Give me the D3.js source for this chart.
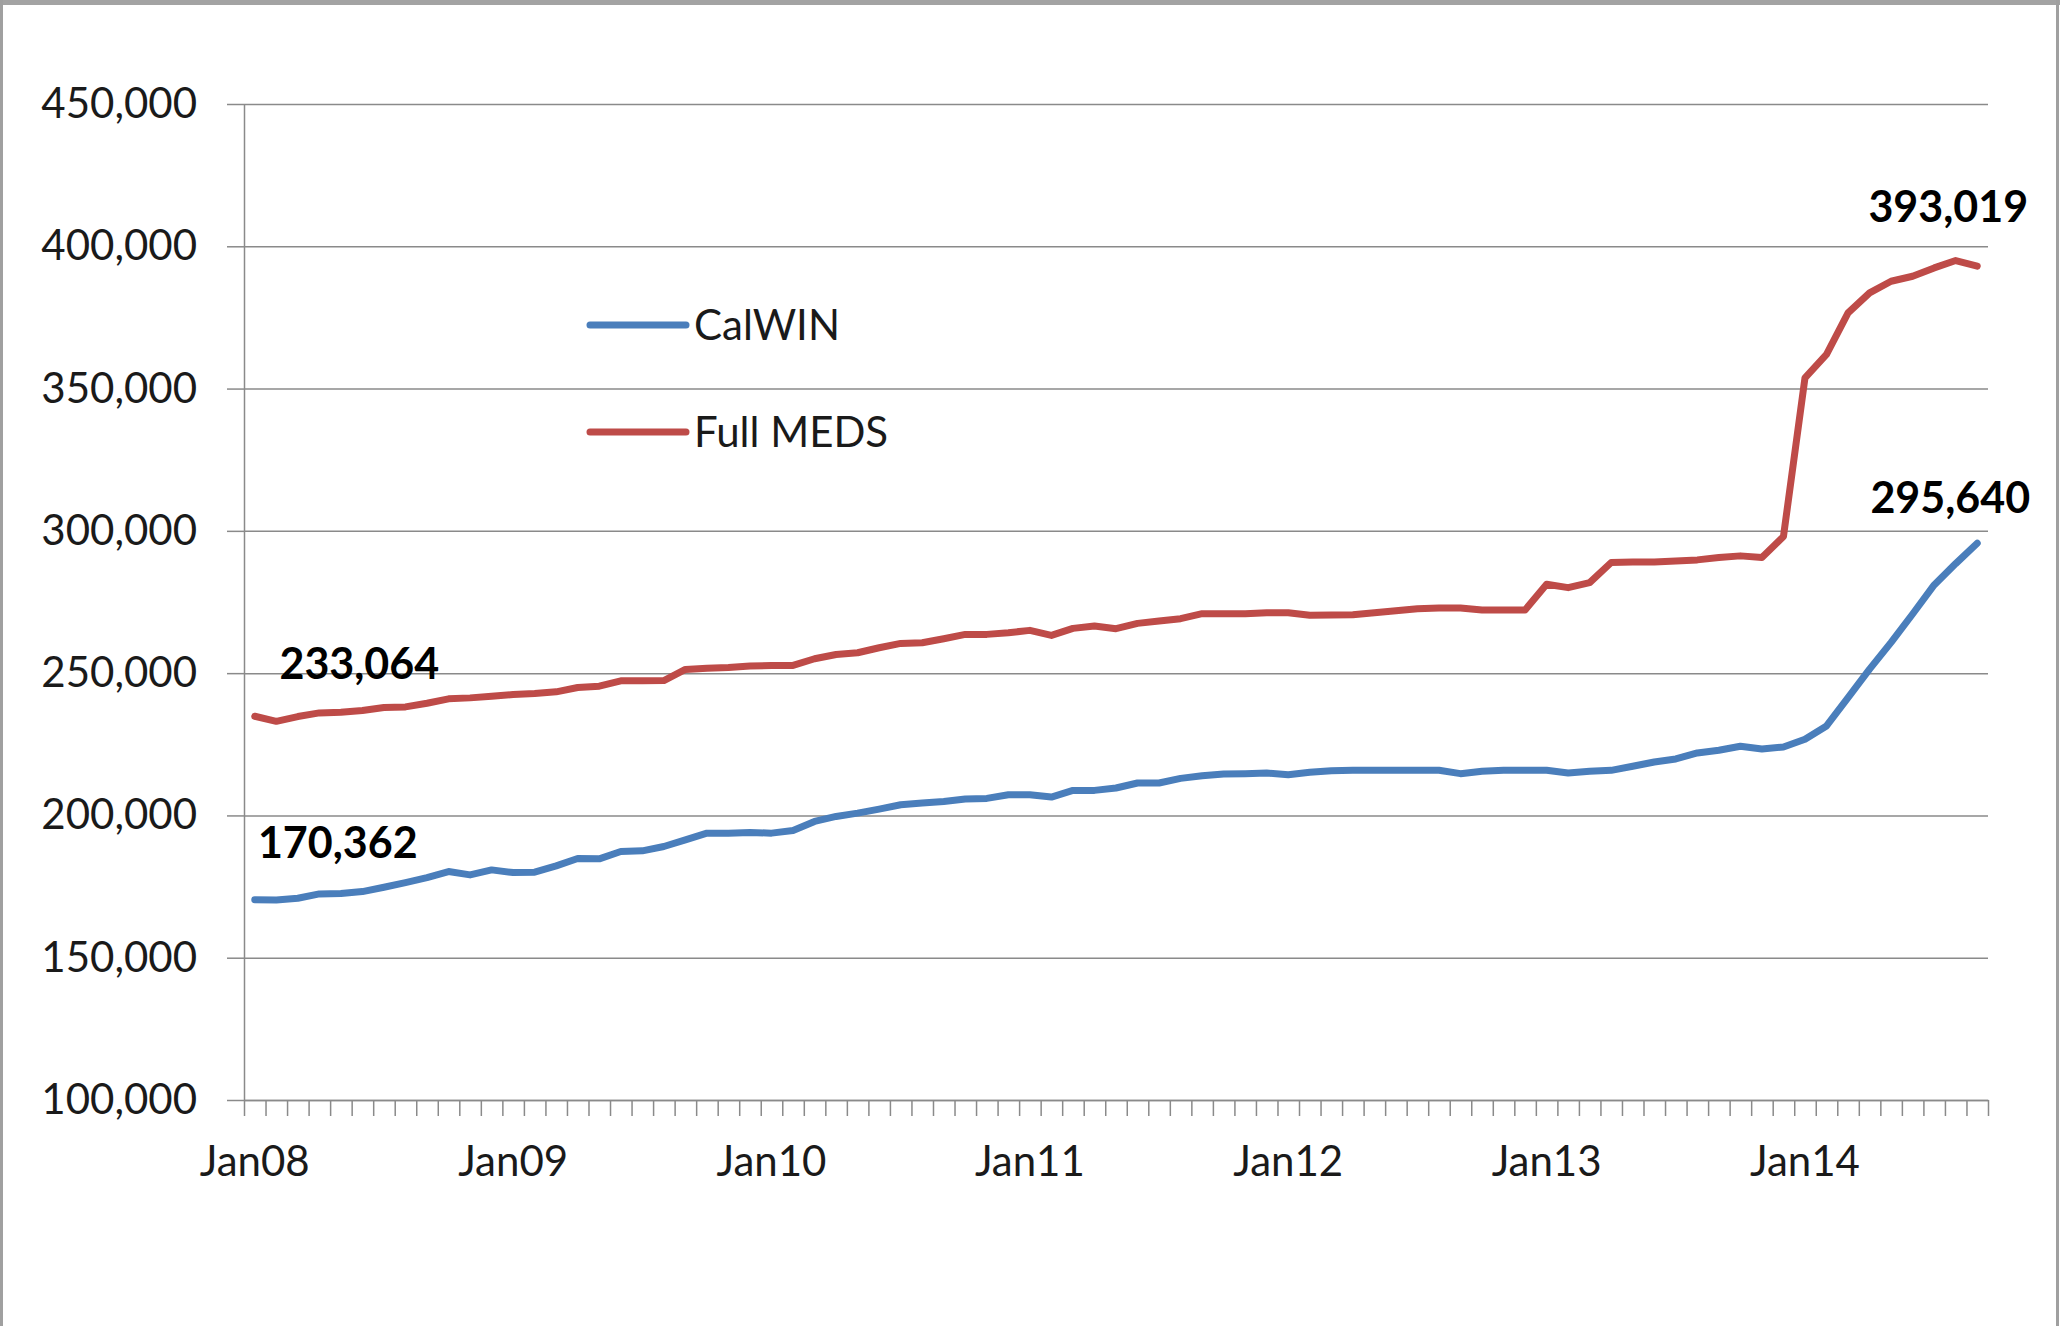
<!DOCTYPE html>
<html>
<head>
<meta charset="utf-8">
<script src="https://cdn.jsdelivr.net/npm/d3@7"></script>
<style>
  body { margin: 0; background: #fff; }
  svg { display: block; }
</style>
</head>
<body>
<div id="chart"></div>
<script>
// monthly caseload, Jan 2008 .. Sep 2014
var calwin = [
  170362, 170300, 170880, 172410, 172530, 173230, 174760, 176400, 178160, 180280, 179100, 180860,
  179920, 180040, 182270, 184860, 184740, 187320, 187560, 189080, 191430, 193780, 193780, 194010,
  193780, 194720, 197890, 199650, 200820, 202230, 203760, 204340, 204930, 205750, 205990, 207280,
  207280, 206460, 208800, 208800, 209630, 211390, 211390, 213030, 213970, 214560, 214680, 214910,
  214320, 215140, 215730, 215850, 215850, 215850, 215850, 215850, 214680, 215500, 215850, 215850,
  215850, 214910, 215500, 215850, 217260, 218780, 219840, 221950, 222890, 224300, 223360, 224050,
  226750, 231450, 241430, 251400, 260800, 270780, 281000, 288500, 295640
];
var fullMeds = [
  234850, 233064, 234740, 236030, 236260, 236850, 237900, 238140, 239430, 240960, 241310, 241900,
  242490, 242840, 243430, 244950, 245420, 247300, 247300, 247400, 251290, 251760, 252000, 252470,
  252700, 252700, 255050, 256570, 257160, 258920, 260450, 260680, 262090, 263620, 263620, 264210,
  265030, 263270, 265730, 266550, 265610, 267490, 268310, 269140, 270900, 270900, 270900, 271250,
  271250, 270310, 270430, 270550, 271250, 271950, 272660, 272890, 272890, 272190, 272190, 272190,
  281230, 280050, 281820, 288860, 289090, 289090, 289450, 289800, 290620, 291210, 290620, 298000,
  353790, 361980, 376600, 383620, 387720, 389470, 392400, 395000, 393019
];
var months = d3.timeMonths(new Date(2008, 0, 1), new Date(2014, 9, 1));
var yTicks = [100000, 150000, 200000, 250000, 300000, 350000, 400000, 450000];
var xTickLabels = ["Jan08", "Jan09", "Jan10", "Jan11", "Jan12", "Jan13", "Jan14"];
var seriesNames = ["CalWIN", "Full MEDS"];

var w = 2060, h = 1326;
// plot box (note: "top" is taken by window.top, so prefix these)
var pLeft = 244, pRight = 1988, pTop = 104, pBottom = 1100;
var colors = ["#4a7ebb", "#be4b48"];
var gridColor = "#8a8a8a";
var font = "Lato, 'Open Sans', sans-serif";
var lineW = 7;

var svg = d3.select("#chart").append("svg")
  .attr("width", w)
  .attr("height", h);

// frame
svg.append("rect").attr("x", 0).attr("y", 0).attr("width", w).attr("height", h).attr("fill", "#fff");
svg.append("rect").attr("x", 0).attr("y", 0).attr("width", w).attr("height", 5).attr("fill", "#a3a3a3");
svg.append("rect").attr("x", 0).attr("y", 0).attr("width", 3).attr("height", h).attr("fill", "#a0a0a0");
svg.append("rect").attr("x", w - 4).attr("y", 0).attr("width", 3).attr("height", h).attr("fill", "#a0a0a0");

var idx = d3.range(months.length);
var x = d3.scaleBand().domain(idx).range([pLeft, pRight]).padding(0);
var xEdge = d3.scaleLinear().domain([0, months.length]).range([pLeft, pRight]);
var y = d3.scaleLinear().domain([100000, 450000]).range([pBottom, pTop]);
var cx = function(i) { return x(i) + x.bandwidth() / 2; };

// gridlines
svg.append("g")
  .attr("transform", "translate(" + pLeft + ",0)")
  .call(d3.axisLeft(y).tickValues(yTicks).tickSize(-(pRight - pLeft)).tickFormat(""))
  .call(function(g) {
    g.select(".domain").remove();
    g.selectAll("line").attr("stroke", gridColor).attr("stroke-width", 1.5);
  });

// y axis
svg.append("g")
  .attr("transform", "translate(" + pLeft + ",0)")
  .call(d3.axisLeft(y).tickValues(yTicks).tickSize(17).tickPadding(30).tickSizeOuter(0).tickFormat(d3.format(",")))
  .call(function(g) {
    g.select(".domain").attr("stroke", gridColor).attr("stroke-width", 1.5);
    g.selectAll("line").attr("stroke", gridColor).attr("stroke-width", 1.5);
    g.selectAll("text").attr("font-family", font).attr("font-size", 42).attr("fill", "#1a1a1a");
  });

// x axis ticks at category edges
svg.append("g")
  .attr("transform", "translate(0," + pBottom + ")")
  .call(d3.axisBottom(xEdge).tickValues(d3.range(months.length + 1)).tickSize(16).tickSizeOuter(0).tickFormat(""))
  .call(function(g) {
    g.select(".domain").attr("stroke", gridColor).attr("stroke-width", 1.5);
    g.selectAll("line").attr("stroke", gridColor).attr("stroke-width", 1.5);
  });

// x labels, one per January
var janIdx = idx.filter(function(i) { return months[i].getMonth() === 0; });
svg.append("g")
  .attr("transform", "translate(0," + pBottom + ")")
  .call(d3.axisBottom(x).tickValues(janIdx).tickSize(0).tickPadding(46)
    .tickFormat(function(d, i) { return xTickLabels[i]; }))
  .call(function(g) {
    g.select(".domain").remove();
    g.selectAll("text").attr("font-family", font).attr("font-size", 42).attr("fill", "#1a1a1a");
  });

// lines
var line = d3.line()
  .x(function(d, i) { return cx(i); })
  .y(function(d) { return y(d); });

[calwin, fullMeds].forEach(function(s, k) {
  svg.append("path")
    .datum(s)
    .attr("d", line)
    .attr("fill", "none")
    .attr("stroke", colors[k])
    .attr("stroke-width", lineW)
    .attr("stroke-linejoin", "round")
    .attr("stroke-linecap", "round");
});

// data labels
var labels = [
  {s: calwin, i: 0, dx: 83, dy: -57},
  {s: fullMeds, i: 1, dx: 83, dy: -58},
  {s: fullMeds, i: fullMeds.length - 1, dx: -29, dy: -60},
  {s: calwin, i: calwin.length - 1, dx: -27, dy: -46}
];
svg.selectAll("text.dlabel")
  .data(labels)
  .enter()
  .append("text")
  .attr("class", "dlabel")
  .text(function(d) { return d3.format(",")(d.s[d.i]); })
  .attr("x", function(d) { return cx(d.i) + d.dx; })
  .attr("y", function(d) { return y(d.s[d.i]) + d.dy; })
  .attr("dy", "0.36em")
  .attr("text-anchor", "middle")
  .attr("font-family", font)
  .attr("font-weight", "bold")
  .attr("font-size", 43)
  .attr("fill", "#000");

// legend
var legend = svg.append("g").attr("transform", "translate(590,325)");
seriesNames.forEach(function(name, k) {
  var g = legend.append("g").attr("transform", "translate(0," + (k * 107) + ")");
  g.append("line")
    .attr("x1", 0).attr("x2", 96)
    .attr("stroke", colors[k])
    .attr("stroke-width", lineW)
    .attr("stroke-linecap", "round");
  g.append("text")
    .attr("x", 104)
    .attr("dy", "0.36em")
    .attr("font-family", font)
    .attr("font-size", 42)
    .attr("fill", "#1a1a1a")
    .text(name);
});
</script>
</body>
</html>
